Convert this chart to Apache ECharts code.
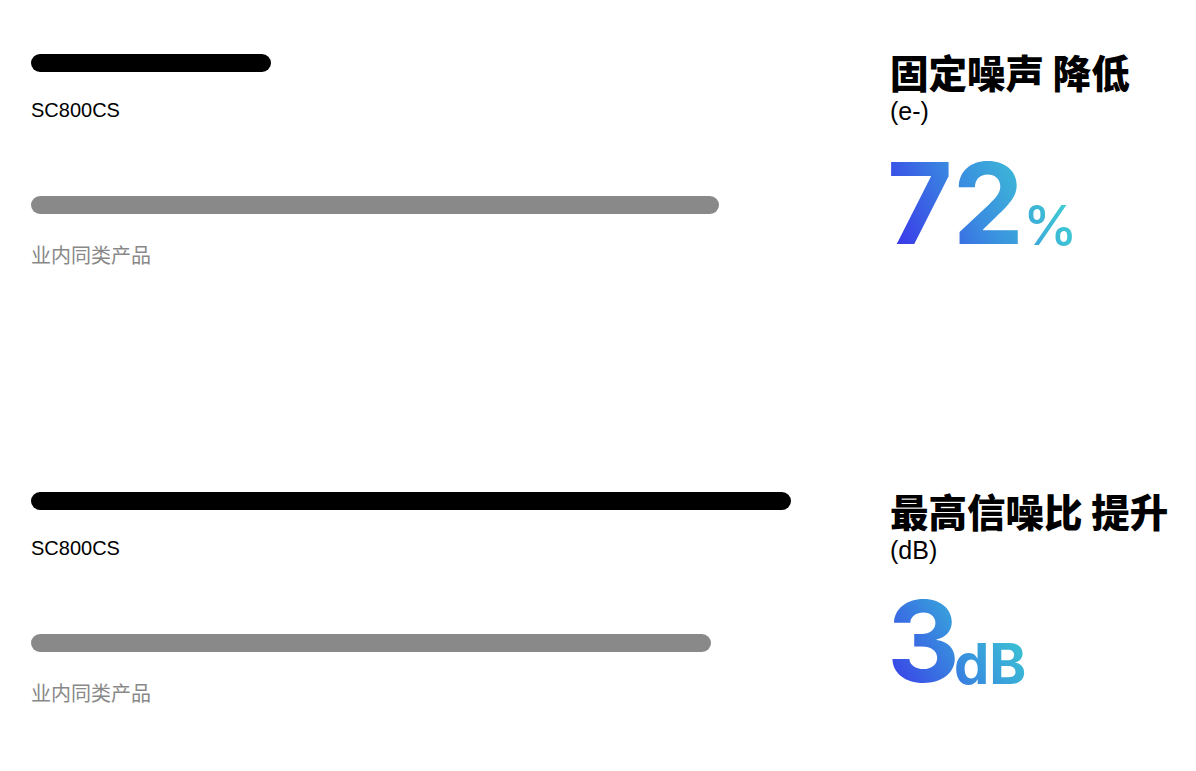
<!DOCTYPE html>
<html>
<head>
<meta charset="utf-8">
<script src="https://cdn.jsdelivr.net/npm/echarts@6/dist/echarts.min.js"></script>
<style>
html,body{margin:0;padding:0;background:#fff;}
#main{width:1196px;height:771px;}
</style>
</head>
<body>
<div id="main"></div>
<script>
// ---- data ----
const categories = ['SC800CS', '业内同类产品'];
const noiseValues = [30, 86];   // bar lengths (share of scale) - fixed noise panel
const snrValues = [95, 85];     // bar lengths (share of scale) - SNR panel
const panelTitles = ['固定噪声 降低', '最高信噪比 提升'];
const panelUnits = ['(e-)', '(dB)'];
const highlightValues = ['72', '3'];
const highlightUnits = ['%', 'dB'];

// ---- styles ----
const barColors = ['#000000', '#898989'];
const labelColors = ['#000000', '#888888'];
const labelOffsets = [47, 51];
const latin = '"Liberation Sans", Arial, "Noto Sans CJK SC", sans-serif';
const cjk = '"Noto Sans CJK SC", "Liberation Sans", sans-serif';
const numFont = 'Inter, "Liberation Sans", sans-serif';

const chart = echarts.init(document.getElementById('main'), null, {renderer: 'svg'});

function barData(values) {
  return values.map((v, i) => ({
    value: v,
    name: categories[i],
    itemStyle: {color: barColors[i], borderRadius: 9},
    label: {color: labelColors[i], offset: [0, labelOffsets[i]]}
  }));
}

const panelTop = [63, 501];
const grids = panelTop.map(t => ({left: 31, top: t, width: 800, height: 142, containLabel: false}));
const xAxes = panelTop.map((t, i) => ({type: 'value', gridIndex: i, min: 0, max: 100, show: false}));
const yAxes = panelTop.map((t, i) => ({type: 'category', gridIndex: i, data: categories, inverse: true, boundaryGap: false, show: false}));
const seriesData = [noiseValues, snrValues];
const series = seriesData.map((vals, i) => ({
  type: 'bar',
  xAxisIndex: i,
  yAxisIndex: i,
  barWidth: 18,
  data: barData(vals),
  label: {
    show: true,
    position: 'insideLeft',
    distance: 0,
    formatter: '{b}',
    fontSize: 20,
    fontFamily: latin
  },
  silent: true
}));

const bigY = [202.5, 641];
const unitShift = [22.5, 23];
const unitSize = [55, 56];
const unitWeight = [500, 700];
const bigSize = 113;
const bigTokenWidth = [136, 67];
const baseColors = ['#3a6fe4', '#3a72e2'];

// gradient endpoints (page pixels) and stops for the highlight numbers
const gradEnds = [[887, 247, 1060, 162], [887, 686, 1018, 600]];
const gradStops = [
  [[0, '#3a2fea'], [0.5, '#3a8ee0'], [1, '#3fd6d0']],
  [[0, '#3a3ae9'], [0.55, '#3897dd'], [1, '#3dd2d0']]
];

const graphics = [];
[0, 1].forEach(i => {
  const dy = i * 439;
  graphics.push({
    type: 'text', x: 890, y: 71 + dy,
    style: {text: panelTitles[i], fontFamily: cjk, fontSize: 38.5, fontWeight: 900, fill: '#000', verticalAlign: 'middle', align: 'left'}
  });
  graphics.push({
    type: 'text', x: 890, y: 111 + dy,
    style: {text: panelUnits[i], fontFamily: latin, fontSize: 25, fill: '#000', verticalAlign: 'middle', align: 'left'}
  });
  graphics.push({
    type: 'text', x: 887, y: bigY[i],
    style: {
      text: '{n|' + highlightValues[i] + '}{u|' + highlightUnits[i] + '}',
      fontFamily: numFont,
      fill: baseColors[i],
      verticalAlign: 'middle',
      align: 'left',
      rich: {
        n: {fontFamily: numFont, fontSize: bigSize, fontWeight: 700, fill: baseColors[i], width: bigTokenWidth[i]},
        u: {fontFamily: numFont, fontSize: unitSize[i], fontWeight: unitWeight[i], fill: baseColors[i],
            padding: [unitShift[i] * 2, 0, 0, 0]}
      }
    }
  });
});

chart.setOption({
  animation: false,
  backgroundColor: '#ffffff',
  grid: grids,
  xAxis: xAxes,
  yAxis: yAxes,
  series: series,
  graphic: graphics
});

// give the highlight numbers their blue-to-cyan gradient fill
const tokenPanel = {};
highlightValues.forEach((v, i) => { tokenPanel[v] = i; tokenPanel[highlightUnits[i]] = i; });
let gradCount = 0;
function applyGradients() {
  const svg = document.querySelector('#main svg');
  if (!svg) return;
  const ns = 'http://www.w3.org/2000/svg';
  let defs = svg.querySelector('#hlDefs');
  if (!defs) {
    defs = document.createElementNS(ns, 'defs');
    defs.setAttribute('id', 'hlDefs');
    svg.insertBefore(defs, svg.firstChild);
  }
  svg.querySelectorAll('text').forEach(t => {
    const key = (t.textContent || '').trim();
    if (!(key in tokenPanel)) return;
    const p = tokenPanel[key];
    const ctm = t.getCTM();
    if (!ctm) return;
    const inv = ctm.inverse();
    const e = gradEnds[p];
    const a = new DOMPoint(e[0], e[1]).matrixTransform(inv);
    const b = new DOMPoint(e[2], e[3]).matrixTransform(inv);
    const id = 'hlGrad' + (gradCount++);
    const g = document.createElementNS(ns, 'linearGradient');
    g.setAttribute('id', id);
    g.setAttribute('gradientUnits', 'userSpaceOnUse');
    g.setAttribute('x1', a.x); g.setAttribute('y1', a.y);
    g.setAttribute('x2', b.x); g.setAttribute('y2', b.y);
    gradStops[p].forEach(s => {
      const st = document.createElementNS(ns, 'stop');
      st.setAttribute('offset', s[0]);
      st.setAttribute('stop-color', s[1]);
      g.appendChild(st);
    });
    defs.appendChild(g);
    t.setAttribute('fill', 'url(#' + id + ')');
    t.style.fill = 'url(#' + id + ')';
  });
}
chart.on('finished', applyGradients);
applyGradients();
setTimeout(applyGradients, 0);
requestAnimationFrame(applyGradients);
</script>
</body>
</html>
